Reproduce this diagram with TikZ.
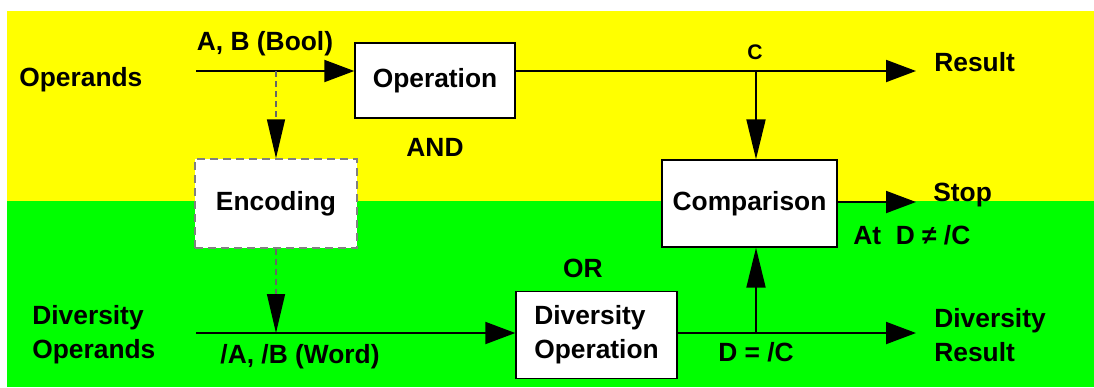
\documentclass[tikz,border=0pt]{standalone}
\usepackage{fontspec}
\setmainfont{Liberation Sans}
\usetikzlibrary{arrows.meta,positioning}
\definecolor{bandyellow}{RGB}{255,255,0}
\definecolor{bandgreen}{RGB}{0,255,0}

\begin{document}
\begin{tikzpicture}[x=0.02cm, y=-0.02cm,
    block/.style={rectangle, draw, line width=0.03cm, fill=white, minimum width=3.2cm, minimum height=1.74cm, font=\fontsize{15}{19.3}\selectfont\bfseries},
    dashblock/.style={draw=gray, dash pattern=on 0.16cm off 0.1cm},
    lbl/.style={font=\fontsize{15}{19.3}\selectfont\bfseries, inner sep=0pt},
    small/.style={font=\fontsize{12}{14}\selectfont\bfseries, inner sep=0pt},
    arrow/.style={-{Triangle[length=0.6cm,width=0.44cm]}, line width=0.04cm},
    darrow/.style={-{Triangle[length=0.8cm,width=0.38cm]}, line width=0.04cm},
    dasharrow/.style={-{Triangle[length=0.78cm,width=0.36cm,color=black]}, draw=black!60, line width=0.03cm, dash pattern=on 0.12cm off 0.08cm}]

% Bands
\useasboundingbox (0,0) rectangle (1094,387);
\fill[bandyellow] (7,11) rectangle (1094,201);
\fill[bandgreen] (7,201) rectangle (1094,387);

% Blocks
\node[block, minimum height=1.5cm] (operation) at (435,80.5) {Operation};
\node[block, dashblock, minimum width=3.24cm, minimum height=1.78cm] (encoding) at (276,203.5) {Encoding};
\node[block, minimum width=3.5cm] (comparison) at (749.5,203.5) {Comparison};
\node[block, align=left, minimum width=3.22cm] (divop) at (596.5,335) {Diversity\\Operation};

% Labels
\node[lbl, anchor=west] (operands) at (19,80) {Operands};
\node[lbl, anchor=west, align=left] (divoperands) at (32,335) {Diversity\\Operands};
\node[lbl] (bool) at (265,44) {A, B (Bool)};
\node[lbl] (word) at (300,357) {/A, /B (Word)};
\node[lbl] (and) at (435,147) {AND};
\node[lbl] (or) at (583,268) {OR};
\node[small] (c) at (755,52) {C};
\node[lbl] (d) at (756,352) {D = /C};
\node[lbl, anchor=west] (result) at (934,62) {Result};
\node[lbl, anchor=west] (stop) at (933,195) {Stop};
\node[lbl, anchor=west] (atd) at (853,235) {At\ \ D ≠ /C};
\node[lbl, anchor=west, align=left] (divresult) at (934,335) {Diversity\\Result};

% Free ends
\coordinate (opin) at (196,71);
\coordinate (encsplit) at (276,71);
\coordinate (cbranch) at (756,71);
\coordinate (resend) at (916,71);
\coordinate (stopend) at (916,202);
\coordinate (divin) at (196,333);
\coordinate (encjoin) at (276,333);
\coordinate (dbranch) at (756,333);
\coordinate (divend) at (916,333);

% Connections
\draw[arrow] (opin) -- (opin -| operation.west);
\draw[arrow] (operation.east |- resend) -- (resend);
\draw[darrow] (cbranch) -- (comparison.north -| cbranch);
\draw[arrow] (comparison.east |- stopend) -- (stopend);
\draw[dasharrow] (encsplit) -- (encoding.north);
\draw[dasharrow] (encoding.south) -- (encjoin);
\draw[arrow] (divin) -- (divin -| divop.west);
\draw[arrow] (divop.east |- divend) -- (divend);
\draw[darrow] (dbranch) -- (comparison.south -| dbranch);
\end{tikzpicture}
\end{document}
